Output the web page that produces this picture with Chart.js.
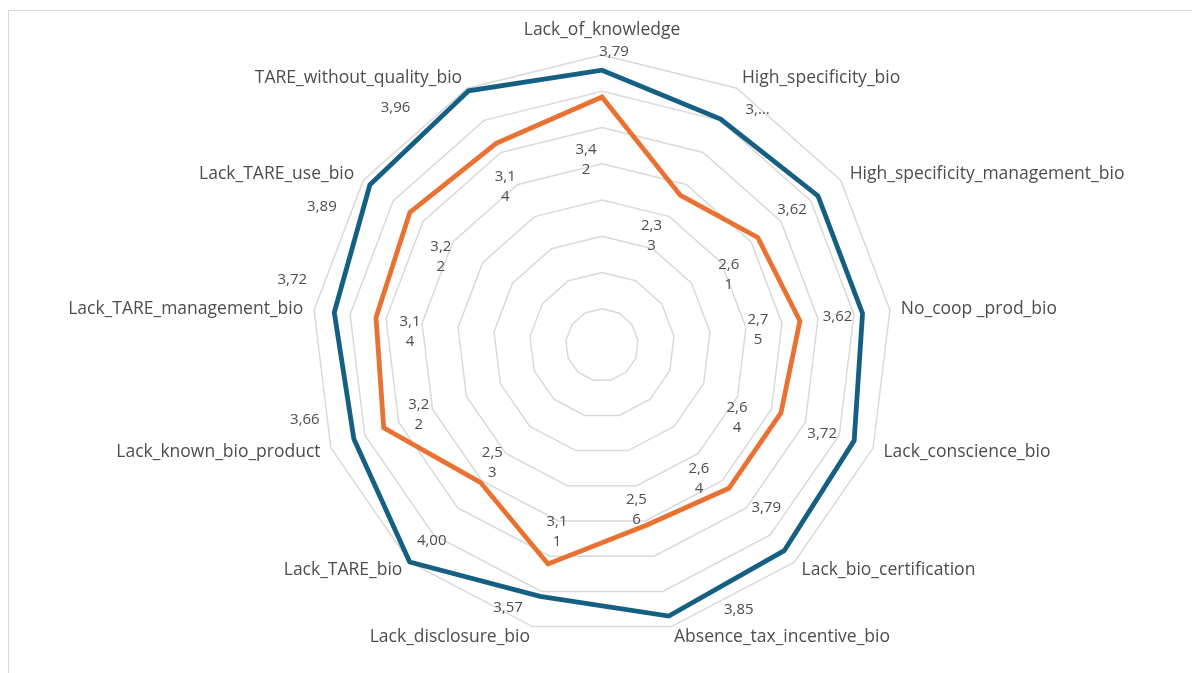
<!DOCTYPE html>
<html>
<head>
<meta charset="utf-8">
<script src="https://cdn.jsdelivr.net/npm/chart.js@4.4.1/dist/chart.umd.min.js"></script>
<style>
  html, body { margin: 0; padding: 0; background: #ffffff; }
  #wrap { position: relative; width: 1192px; height: 673px; overflow: hidden; }
  #frame { position: absolute; left: 8px; top: 10px; width: 1300px; height: 800px;
           border: 1.5px solid #d9d9d9; box-sizing: border-box; }
  #c { position: absolute; left: 0; top: 0; }
</style>
</head>
<body>
<div id="wrap">
  <div id="frame"></div>
  <canvas id="c" width="1192" height="673"></canvas>
</div>
<script>
// Categories, clockwise from the top
const categories = [
  'Lack_of_knowledge',
  'High_specificity_bio',
  'High_specificity_management_bio',
  'No_coop _prod_bio',
  'Lack_conscience_bio',
  'Lack_bio_certification',
  'Absence_tax_incentive_bio',
  'Lack_disclosure_bio',
  'Lack_TARE_bio',
  'Lack_known_bio_product',
  'Lack_TARE_management_bio',
  'Lack_TARE_use_bio',
  'TARE_without_quality_bio'
];

// Series values
const serie1 = [3.79, 3.52, 3.62, 3.62, 3.72, 3.79, 3.85, 3.57, 4.00, 3.66, 3.72, 3.89, 3.96];
const serie2 = [3.42, 2.33, 2.61, 2.75, 2.64, 2.64, 2.56, 3.11, 2.53, 3.22, 3.14, 3.22, 3.14];

// Radial axis range and ring step
const axisMin = 0;
const axisMax = 4;
const axisStep = 0.5;

// Labels of serie1 that are cut short (index list)
const serie1Clipped = [1];

// Data-label placement relative to each point, in pixels [dx, dy]
const serie1LabelOffsets = [[12,-18],[37,-9],[-26,14],[-25,3],[-32,-7],[-18,-43],[70,-6],[-32,11],[22,-21],[-49,-19],[-42,-33],[-48,22],[-73,17]];
const serie2LabelOffsets = [[-16,63],[-29,40],[-29,37],[-42,9],[-44,5],[-30,-10],[-10,-15],[9,-32],[12,-20],[35,-13],[34,14],[31,44],[9,43]];

const TEXT_COLOR = '#4d4d4d';
const FONT_FAMILY = '"Open Sans", "Liberation Sans", sans-serif';

function fmt(v) { return v.toFixed(2).replace('.', ','); }

// Category names around the outer ring
const categoryLabels = {
  id: 'categoryLabels',
  afterDraw(chart) {
    const scale = chart.scales.r;
    const ctx = chart.ctx;
    ctx.save();
    ctx.font = '17.5px ' + FONT_FAMILY;
    ctx.fillStyle = TEXT_COLOR;
    ctx.textBaseline = 'middle';
    const gap = 11;
    categories.forEach((text, i) => {
      const a = scale.getIndexAngle(i);
      const p = scale.getPointPosition(i, scale.drawingArea);
      const s = Math.sin(a), c = Math.cos(a);
      let x = p.x + gap * s;
      let y = p.y - gap * c;
      if (Math.abs(s) < 0.05) {
        ctx.textAlign = 'center';
        y = p.y - 25 * c;
      } else {
        ctx.textAlign = s > 0 ? 'left' : 'right';
      }
      ctx.fillText(text, x, y);
    });
    ctx.restore();
  }
};

// Value labels next to each vertex
const valueLabels = {
  id: 'valueLabels',
  afterDatasetsDraw(chart) {
    const ctx = chart.ctx;
    ctx.save();
    ctx.font = '15px ' + FONT_FAMILY;
    ctx.fillStyle = TEXT_COLOR;
    ctx.textAlign = 'center';
    ctx.textBaseline = 'middle';
    // serie1: single-line labels
    const m1 = chart.getDatasetMeta(0);
    m1.data.forEach((pt, i) => {
      const [dx, dy] = serie1LabelOffsets[i];
      let t = fmt(serie1[i]);
      if (serie1Clipped.includes(i)) t = t.slice(0, 2) + '...';
      ctx.fillText(t, pt.x + dx, pt.y + dy);
    });
    // serie2: labels wrapped onto two lines
    const m2 = chart.getDatasetMeta(1);
    m2.data.forEach((pt, i) => {
      const [dx, dy] = serie2LabelOffsets[i];
      const t = fmt(serie2[i]);
      ctx.fillText(t.slice(0, 3), pt.x + dx, pt.y + dy - 10);
      ctx.fillText(t.slice(3), pt.x + dx, pt.y + dy + 10);
    });
    ctx.restore();
  }
};

new Chart(document.getElementById('c'), {
  type: 'radar',
  data: {
    labels: categories,
    datasets: [
      {
        label: 'Série 1',
        data: serie1,
        borderColor: '#156082',
        backgroundColor: 'transparent',
        borderWidth: 4.8,
        fill: false,
        pointRadius: 0,
        pointHoverRadius: 0,
        borderJoinStyle: 'miter'
      },
      {
        label: 'Série 2',
        data: serie2,
        borderColor: '#E97132',
        backgroundColor: 'transparent',
        borderWidth: 4.8,
        fill: false,
        pointRadius: 0,
        pointHoverRadius: 0,
        borderJoinStyle: 'miter'
      }
    ]
  },
  options: {
    responsive: false,
    animation: false,
    devicePixelRatio: 1,
    layout: { padding: { top: 55, bottom: 38, left: 12, right: 0 } },
    plugins: {
      legend: { display: false },
      tooltip: { enabled: false },
      title: { display: false }
    },
    elements: { line: { tension: 0 } },
    scales: {
      r: {
        min: axisMin,
        max: axisMax,
        ticks: { display: false, stepSize: axisStep },
        grid: { color: '#d9d9d9', lineWidth: 1.5 },
        angleLines: { display: false },
        pointLabels: { display: false }
      }
    }
  },
  plugins: [valueLabels, categoryLabels]
});
</script>
</body>
</html>
